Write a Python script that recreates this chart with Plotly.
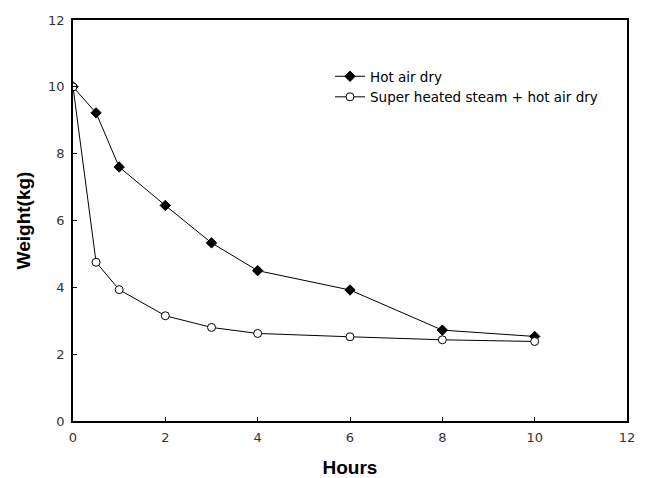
import plotly.graph_objects as go

hours = [0, 0.5, 1, 2, 3, 4, 6, 8, 10]
hot_air = [10, 9.22, 7.6, 6.45, 5.33, 4.5, 3.92, 2.72, 2.53]
steam_hot_air = [10, 4.75, 3.93, 3.15, 2.8, 2.62, 2.52, 2.43, 2.38]
tick_vals = [0, 2, 4, 6, 8, 10, 12]

fig = go.Figure()
fig.add_trace(go.Scatter(
    x=hours, y=hot_air, mode="lines+markers", name="Hot air dry",
    line=dict(color="black", width=1),
    marker=dict(symbol="diamond", size=8, color="black", line=dict(color="black", width=1)),
))
fig.add_trace(go.Scatter(
    x=hours, y=steam_hot_air, mode="lines+markers", name="Super heated steam + hot air dry",
    line=dict(color="black", width=1),
    marker=dict(symbol="circle", size=8, color="white", line=dict(color="black", width=1)),
))

axis_common = dict(
    range=[0, 12], tickvals=tick_vals, ticks="inside", ticklen=4, tickcolor="black",
    showline=True, linecolor="black", linewidth=1.5, mirror=True,
    showgrid=False, zeroline=False, automargin=False, ticklabelstandoff=4,
    tickfont=dict(family="DejaVu Sans", size=13, color="#333"),
)
title_font = dict(family="Liberation Sans, Arial", size=19, color="black")
fig.update_xaxes(**axis_common, title=dict(text="<b>Hours</b>", standoff=20, font=title_font))
fig.update_yaxes(**axis_common, title=dict(text="<b>Weight(kg)</b>", standoff=12, font=title_font))

# the page body adds an 8px offset; the figure is sized so the plot area lands where the reference has it
fig.update_layout(
    width=639, height=470,
    margin=dict(l=65, r=20, t=12, b=57),
    paper_bgcolor="white", plot_bgcolor="white",
    showlegend=True,
    legend=dict(x=(322 - 65) / 554, y=1 - (53 - 12) / 401, xanchor="left", yanchor="top",
                bgcolor="rgba(0,0,0,0)", font=dict(family="DejaVu Sans", size=13.5, color="black"),
                itemwidth=30, tracegroupgap=0),
)

fig.write_html("out.html")
